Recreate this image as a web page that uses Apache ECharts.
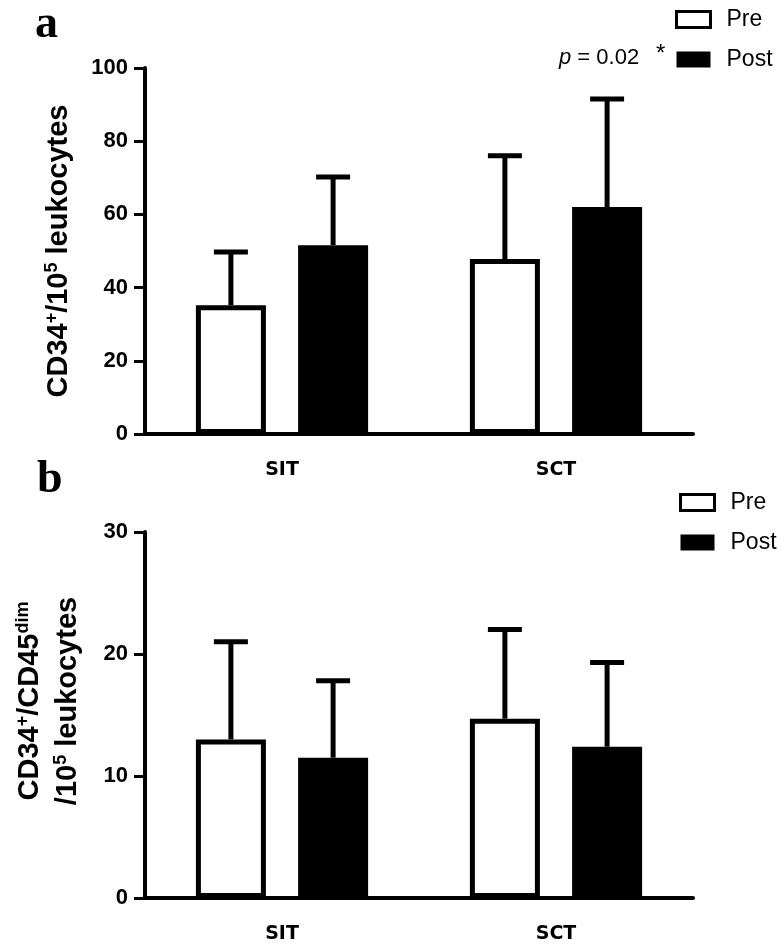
<!DOCTYPE html>
<html>
<head>
<meta charset="utf-8">
<script src="https://cdn.jsdelivr.net/npm/echarts@6/dist/echarts.min.js"></script>
<style>
html,body{margin:0;padding:0;background:#fff;}
#chart{width:784px;height:945px;}
</style>
</head>
<body>
<div id="chart"></div>
<script>
// ---- data ----
const categories = ['SIT', 'SCT'];
const seriesNames = ['Pre', 'Post'];
// Panel a: CD34+/10^5 leukocytes (mean, SD upward)
const aPreMean = [35.2, 47.8];
const aPreSD = [14.5, 28.2];
const aPostMean = [51.6, 62.0];
const aPostSD = [18.6, 29.5];
// Panel b: CD34+/CD45dim /10^5 leukocytes
const bPreMean = [13.0, 14.7];
const bPreSD = [8.0, 7.3];
const bPostMean = [11.5, 12.4];
const bPostSD = [6.3, 6.9];
const aTicks = { min: 0, max: 100, interval: 20 };
const bTicks = { min: 0, max: 30, interval: 10 };
const pText = 'p = 0.02';

// ---- styles ----
const BAR_W = 70;
const BAR_GAP = 0.46;
const CAP_HALF = 17;
const LW = 5;
const FONT = "'Liberation Sans', Arial, sans-serif";
const NARROW = "'Liberation Sans Narrow', 'Arial Narrow', 'Liberation Sans', sans-serif";

const chart = echarts.init(document.getElementById('chart'));

function errSeries(name, means, sds, idx, dir) {
  return {
    name: name,
    type: 'custom',
    xAxisIndex: idx, yAxisIndex: idx,
    z: 5,
    silent: true,
    data: categories.map((c, i) => [i, means[i], sds[i]]),
    encode: { x: 0, y: 1 },
    renderItem: function (params, api) {
      const i = api.value(0), m = api.value(1), e = api.value(2);
      const base = api.coord([i, m]);
      const top = api.coord([i, m + e]);
      const x = base[0] + dir * BAR_W * (1 + BAR_GAP) / 2;
      return {
        type: 'group',
        children: [
          { type: 'line', shape: { x1: x, y1: base[1], x2: x, y2: top[1] }, style: { stroke: '#000', lineWidth: LW } },
          { type: 'line', shape: { x1: x - CAP_HALF, y1: top[1], x2: x + CAP_HALF, y2: top[1] }, style: { stroke: '#000', lineWidth: LW } }
        ]
      };
    }
  };
}

function barSeries(name, means, idx, hollow) {
  return {
    name: name,
    type: 'bar',
    xAxisIndex: idx, yAxisIndex: idx,
    barWidth: BAR_W,
    barGap: (BAR_GAP * 100) + '%',
    data: means,
    itemStyle: hollow ? { color: '#fff', borderColor: '#000', borderWidth: 5 } : { color: '#000' },
    emphasis: { disabled: true }
  };
}

const xAxisCommon = {
  type: 'category',
  data: categories,
  axisLine: { lineStyle: { color: '#000', width: 4 } },
  axisTick: { alignWithLabel: true, length: 8, lineStyle: { color: '#000', width: 3 } },
  axisLabel: { color: '#000', fontFamily: "'DejaVu Sans', 'Liberation Sans', sans-serif", fontWeight: 'bold', fontSize: 19, margin: 27 }
};
const yAxisCommon = {
  type: 'value',
  axisLine: { show: true, lineStyle: { color: '#000', width: 4 } },
  axisTick: { show: true, length: 11, lineStyle: { color: '#000', width: 3 } },
  splitLine: { show: false },
  axisLabel: { color: '#000', fontFamily: FONT, fontWeight: 'bold', fontSize: 22, margin: 17 },
  nameLocation: 'middle',
  nameRotate: 90
};

const legendCommon = {
  orient: 'vertical',
  padding: 0,
  itemWidth: 34,
  itemHeight: 16,
  itemGap: 17,
  textStyle: { color: '#000', fontFamily: NARROW, fontSize: 23, padding: [0, 0, 0, 11] },
  data: [
    { name: 'Pre', icon: 'rect', itemStyle: { color: '#fff', borderColor: '#000', borderWidth: 3 } },
    { name: 'Post', icon: 'rect', itemStyle: { color: '#000', borderWidth: 0 } }
  ],
  selectedMode: false
};

function supRich(lineH) {
  return {
    n: { fontSize: 29, fontWeight: 'bold', fontFamily: FONT, color: '#000', lineHeight: lineH, verticalAlign: 'bottom' },
    s: { fontSize: 18, fontWeight: 'bold', fontFamily: FONT, color: '#000', lineHeight: lineH, verticalAlign: 'bottom', padding: [0, 0, 12, 0] }
  };
}

const option = {
  backgroundColor: '#fff',
  animation: false,
  grid: [
    { left: 145, width: 548, top: 68, height: 366 },
    { left: 145, width: 548, top: 532, height: 366 }
  ],
  xAxis: [
    Object.assign({ gridIndex: 0 }, xAxisCommon),
    Object.assign({ gridIndex: 1 }, xAxisCommon)
  ],
  yAxis: [
    Object.assign({}, yAxisCommon, {
      gridIndex: 0, min: aTicks.min, max: aTicks.max, interval: aTicks.interval,
      name: '{n|CD34}{s|+}{n|/10}{s|5}{n| leukocytes}',
      nameGap: 72,
      nameTextStyle: { rich: supRich(32) }
    }),
    Object.assign({}, yAxisCommon, {
      gridIndex: 1, min: bTicks.min, max: bTicks.max, interval: bTicks.interval,
      name: '{n|CD34}{s|+}{n|/CD45}{s|dim}\n{n|/10}{s|5}{n| leukocytes}',
      nameGap: 63,
      nameTextStyle: { rich: supRich(38), padding: [0, 0, 0, 28] }
    })
  ],
  legend: [
    Object.assign({}, legendCommon, { left: 675, top: 8 }),
    Object.assign({}, legendCommon, { left: 679, top: 491 })
  ],
  graphic: [
    { type: 'text', left: 35, top: 2, style: { text: 'a', font: "bold 46px 'Liberation Serif', 'DejaVu Serif', serif", fill: '#000' } },
    { type: 'text', left: 37, top: 457, style: { text: 'b', font: "bold 46px 'Liberation Serif', 'DejaVu Serif', serif", fill: '#000' } },
    { type: 'text', left: 559, top: 47, style: { text: '{i|p}{r| = 0.02}', rich: { i: { font: "italic 22px 'Liberation Sans', Arial, sans-serif", fill: '#000' }, r: { font: "22px 'Liberation Sans', Arial, sans-serif", fill: '#000' } } } },
    { type: 'text', left: 656, top: 42, style: { text: '*', font: "24px 'Liberation Sans', Arial, sans-serif", fill: '#000' } }
  ],
  series: [
    barSeries('Pre', aPreMean, 0, true),
    barSeries('Post', aPostMean, 0, false),
    errSeries('Pre', aPreMean, aPreSD, 0, -1),
    errSeries('Post', aPostMean, aPostSD, 0, 1),
    barSeries('Pre', bPreMean, 1, true),
    barSeries('Post', bPostMean, 1, false),
    errSeries('Pre', bPreMean, bPreSD, 1, -1),
    errSeries('Post', bPostMean, bPostSD, 1, 1)
  ]
};
chart.setOption(option);
</script>
</body>
</html>
